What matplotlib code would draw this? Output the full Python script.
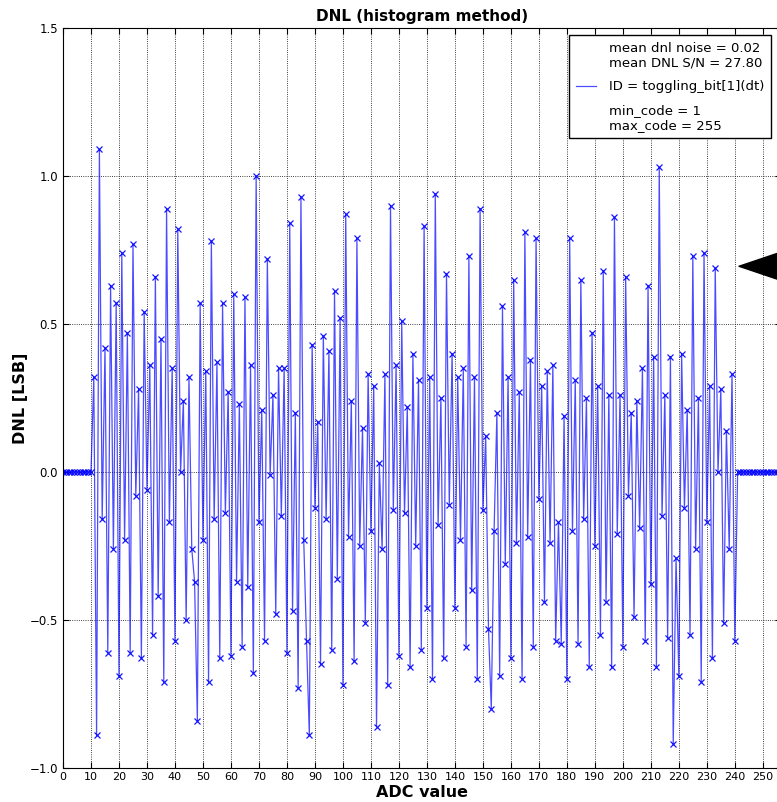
import matplotlib
matplotlib.use('Agg')
import matplotlib.pyplot as plt
from matplotlib.lines import Line2D
import numpy as np

# DNL per ADC code, codes 0..255; only codes 11..240 were hit by the histogram
codes = np.arange(0, 256)
dnl_below = [0.0] * 11          # codes 0..10
dnl_active = [
    0.32, -0.89, 1.09, -0.16, 0.42, -0.61, 0.63, -0.26, 0.57, -0.69,   # 11-20
    0.74, -0.23, 0.47, -0.61, 0.77, -0.08, 0.28, -0.63, 0.54, -0.06,   # 21-30
    0.36, -0.55, 0.66, -0.42, 0.45, -0.71, 0.89, -0.17, 0.35, -0.57,   # 31-40
    0.82, 0.00, 0.24, -0.50, 0.32, -0.26, -0.37, -0.84, 0.57, -0.23,   # 41-50
    0.34, -0.71, 0.78, -0.16, 0.37, -0.63, 0.57, -0.14, 0.27, -0.62,   # 51-60
    0.60, -0.37, 0.23, -0.59, 0.59, -0.39, 0.36, -0.68, 1.00, -0.17,   # 61-70
    0.21, -0.57, 0.72, -0.01, 0.26, -0.48, 0.35, -0.15, 0.35, -0.61,   # 71-80
    0.84, -0.47, 0.20, -0.73, 0.93, -0.23, -0.57, -0.89, 0.43, -0.12,  # 81-90
    0.17, -0.65, 0.46, -0.16, 0.41, -0.60, 0.61, -0.36, 0.52, -0.72,   # 91-100
    0.87, -0.22, 0.24, -0.64, 0.79, -0.25, 0.15, -0.51, 0.33, -0.20,   # 101-110
    0.29, -0.86, 0.03, -0.26, 0.33, -0.72, 0.90, -0.13, 0.36, -0.62,   # 111-120
    0.51, -0.14, 0.22, -0.66, 0.40, -0.25, 0.31, -0.60, 0.83, -0.46,   # 121-130
    0.32, -0.70, 0.94, -0.18, 0.25, -0.63, 0.67, -0.11, 0.40, -0.46,   # 131-140
    0.32, -0.23, 0.35, -0.59, 0.73, -0.40, 0.32, -0.70, 0.89, -0.13,   # 141-150
    0.12, -0.53, -0.80, -0.20, 0.20, -0.69, 0.56, -0.31, 0.32, -0.63,  # 151-160
    0.65, -0.24, 0.27, -0.70, 0.81, -0.22, 0.38, -0.59, 0.79, -0.09,   # 161-170
    0.29, -0.44, 0.34, -0.24, 0.36, -0.57, -0.17, -0.58, 0.19, -0.70,  # 171-180
    0.79, -0.20, 0.31, -0.58, 0.65, -0.16, 0.25, -0.66, 0.47, -0.25,   # 181-190
    0.29, -0.55, 0.68, -0.44, 0.26, -0.66, 0.86, -0.21, 0.26, -0.59,   # 191-200
    0.66, -0.08, 0.20, -0.49, 0.24, -0.19, 0.35, -0.57, 0.63, -0.38,   # 201-210
    0.39, -0.66, 1.03, -0.15, 0.26, -0.56, 0.39, -0.92, -0.29, -0.69,  # 211-220
    0.40, -0.12, 0.21, -0.55, 0.73, -0.26, 0.25, -0.71, 0.74, -0.17,   # 221-230
    0.29, -0.63, 0.69, 0.00, 0.28, -0.51, 0.14, -0.26, 0.33, -0.57,    # 231-240
]
dnl_above = [0.0] * 15          # codes 241..255
dnl = np.array(dnl_below + dnl_active + dnl_above)

noise_txt = 'mean dnl noise = 0.02\nmean DNL S/N = 27.80'
id_txt = 'ID = toggling_bit[1](dt)'
range_txt = 'min_code = 1\nmax_code = 255'

# pointer on the right-hand edge
pointer_code = 241.5
pointer_level = 0.695

plt.rcParams.update({
    'font.family': 'DejaVu Sans',
    'xtick.direction': 'in',
    'ytick.direction': 'in',
    'xtick.top': True,
    'ytick.right': True,
    'xtick.major.size': 4,
    'ytick.major.size': 4,
})

fig = plt.figure(figsize=(7.77, 8.02), dpi=100, facecolor='white')
ax = fig.add_axes([63 / 777, 1 - 768 / 802, (781 - 63) / 777, (768 - 28) / 802])

ax.plot(codes, dnl, '-', color='blue', lw=0.9, alpha=0.7)
ax.plot(codes, dnl, 'x', color='blue', ms=4.5, mew=0.9, alpha=0.9)

ax.annotate('', xy=(pointer_code, pointer_level), xytext=(275, pointer_level),
            arrowprops=dict(facecolor='black', edgecolor='black', width=0.1,
                            headwidth=29, headlength=43, shrink=0.0))

ax.set_xlim(0, 256.5)
ax.set_ylim(-1.0, 1.5)
ax.set_xticks(np.arange(0, 251, 10))
ax.set_yticks(np.arange(-1.0, 1.51, 0.5))
ax.tick_params(axis='x', labelsize=8, pad=3)
ax.tick_params(axis='y', labelsize=8.5)
ax.grid(True, color='black', linestyle=':', linewidth=0.6)

ax.set_title('DNL (histogram method)', fontsize=11, fontweight='bold', pad=5)
ax.set_xlabel('ADC value', fontsize=11.5, fontweight='bold', labelpad=2)
ax.set_ylabel('DNL [LSB]', fontsize=11.5, fontweight='bold', labelpad=1.5)

handles = [Line2D([], [], linestyle='none'),
           Line2D([], [], color='blue', lw=0.9, alpha=0.7),
           Line2D([], [], linestyle='none')]
leg = ax.legend(handles, [noise_txt, id_txt, range_txt], loc='upper right',
                bbox_to_anchor=(0.986, 0.9905), borderaxespad=0,
                fontsize=9.5, fancybox=False, framealpha=1, edgecolor='black',
                handlelength=1.5, handletextpad=1.0, labelspacing=0.8,
                borderpad=0.5)
leg.get_frame().set_linewidth(1.0)

fig.savefig('out.png', dpi=100, facecolor='white')
